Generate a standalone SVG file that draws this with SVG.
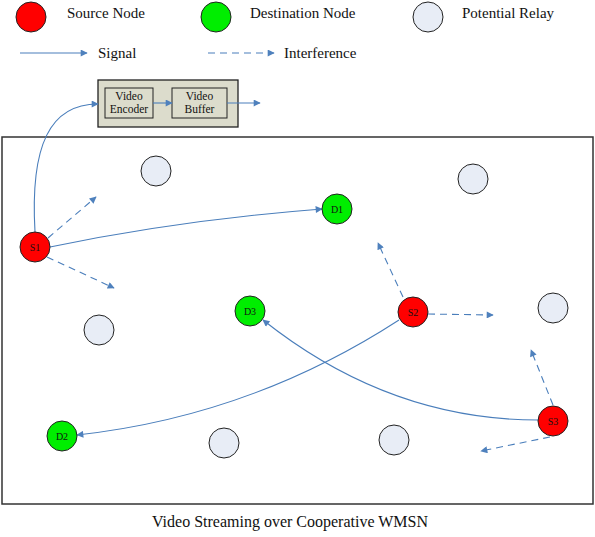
<svg xmlns="http://www.w3.org/2000/svg" width="595" height="537" viewBox="0 0 595 537">
<style>
text{font-family:"Liberation Serif","Times New Roman",serif;fill:#111}
.src{fill:#f00;stroke:#222;stroke-width:1}
.dst{fill:#0e0;stroke:#222;stroke-width:1}
.rel{fill:#e8edf6;stroke:#222;stroke-width:1}
.lg{font-size:15px}
.nl{font-size:10px;text-anchor:middle}
.bx{font-size:11.5px;text-anchor:middle}
.sig{fill:none;stroke:#4a7ebb;stroke-width:1.1}
.itf{fill:none;stroke:#4a7ebb;stroke-width:1.1;stroke-dasharray:7,5}
</style>
<defs>
<marker id="ah" viewBox="0 0 10 10" refX="9" refY="5" markerWidth="9" markerHeight="7" markerUnits="userSpaceOnUse" orient="auto">
<path d="M0,0 L10,5 L0,10 z" fill="#4f81bd"/>
</marker>
</defs>
<rect width="595" height="537" fill="#fff"/>

<g id="legend">
<circle class="src" cx="31" cy="17" r="15"/>
<text class="lg" x="67" y="18">Source Node</text>
<circle class="dst" cx="216" cy="17" r="15"/>
<text class="lg" x="250" y="18">Destination Node</text>
<circle class="rel" cx="428" cy="17" r="15"/>
<text class="lg" x="462" y="18">Potential Relay</text>
<line class="sig" x1="20" y1="53" x2="87" y2="53" marker-end="url(#ah)"/>
<text class="lg" x="98" y="58">Signal</text>
<line class="itf" x1="208" y1="53" x2="274" y2="53" marker-end="url(#ah)"/>
<text class="lg" x="284" y="58">Interference</text>
</g>

<g id="field">
<rect x="2" y="137" width="591" height="367" fill="none" stroke="#333" stroke-width="1.5"/>
</g>

<g id="videobox">
<rect x="98" y="80" width="140" height="47" fill="#dcdccc" stroke="#222" stroke-width="1.3"/>
<rect x="105" y="88" width="48" height="30" fill="#dcdccc" stroke="#222" stroke-width="1"/>
<text class="bx" x="129" y="100">Video</text>
<text class="bx" x="129" y="113">Encoder</text>
<rect x="172" y="88" width="55" height="30" fill="#dcdccc" stroke="#222" stroke-width="1"/>
<text class="bx" x="199.5" y="100">Video</text>
<text class="bx" x="199.5" y="113">Buffer</text>
</g>

<g id="connectors">
<path class="sig" d="M35,232 C30,145 50,104 98,104" marker-end="url(#ah)"/>
<line class="sig" x1="153" y1="103" x2="172" y2="103" marker-end="url(#ah)"/>
<line class="sig" x1="227" y1="103" x2="260" y2="103" marker-end="url(#ah)"/>
<path class="sig" d="M50,247 Q180,220 322,209" marker-end="url(#ah)"/>
<path class="sig" d="M399,320 Q251,416 77,435" marker-end="url(#ah)"/>
<path class="sig" d="M538,420 Q389,420 263,320" marker-end="url(#ah)"/>
<line class="itf" x1="48" y1="238" x2="96" y2="197" marker-end="url(#ah)"/>
<line class="itf" x1="47" y1="257" x2="114" y2="288" marker-end="url(#ah)"/>
<line class="itf" x1="403" y1="297" x2="378" y2="243" marker-end="url(#ah)"/>
<line class="itf" x1="428" y1="314" x2="493" y2="315" marker-end="url(#ah)"/>
<line class="itf" x1="553" y1="405" x2="531" y2="350" marker-end="url(#ah)"/>
<line class="itf" x1="550" y1="437" x2="481" y2="451" marker-end="url(#ah)"/>
</g>

<g id="S1"><circle class="src" cx="35" cy="247" r="15"/><text class="nl" x="35" y="250.5">S1</text></g>
<g id="S2"><circle class="src" cx="413" cy="312" r="15"/><text class="nl" x="413" y="315.5">S2</text></g>
<g id="S3"><circle class="src" cx="553" cy="421" r="15"/><text class="nl" x="553" y="424.5">S3</text></g>
<g id="D1"><circle class="dst" cx="337" cy="209" r="15"/><text class="nl" x="337" y="212.5">D1</text></g>
<g id="D2"><circle class="dst" cx="62" cy="436" r="15"/><text class="nl" x="62" y="439.5">D2</text></g>
<g id="D3"><circle class="dst" cx="250" cy="311" r="15"/><text class="nl" x="250" y="314.5">D3</text></g>
<g id="R1"><circle class="rel" cx="156" cy="171" r="15"/></g>
<g id="R2"><circle class="rel" cx="473" cy="179" r="15"/></g>
<g id="R3"><circle class="rel" cx="99" cy="330" r="15"/></g>
<g id="R4"><circle class="rel" cx="553" cy="308" r="15"/></g>
<g id="R5"><circle class="rel" cx="224" cy="443" r="15"/></g>
<g id="R6"><circle class="rel" cx="394" cy="440" r="15"/></g>

<text x="290" y="527" font-size="16" text-anchor="middle">Video Streaming over Cooperative WMSN</text>
</svg>
